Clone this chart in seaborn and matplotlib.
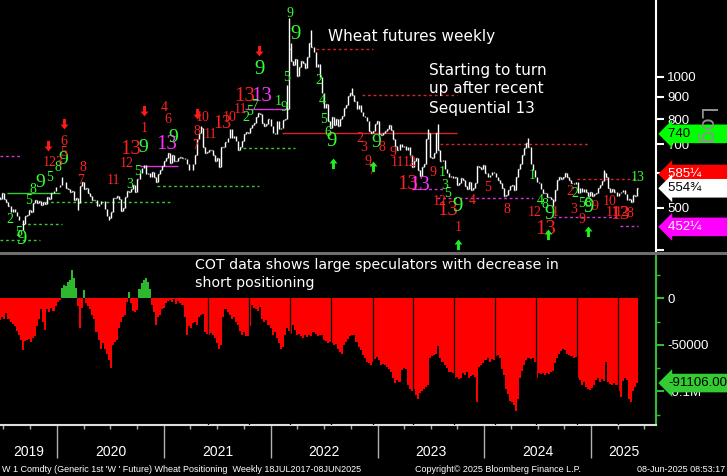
import numpy as np
import pandas as pd
import matplotlib
matplotlib.use("Agg")
import matplotlib.pyplot as plt
import matplotlib.dates as mdates
import matplotlib.transforms as mtransforms
from matplotlib.lines import Line2D
from matplotlib.ticker import FixedLocator, FixedFormatter, NullLocator
import seaborn as sns

# W 1 Comdty weekly closes (cents/bu), one per Friday starting 14 Jun 2019
close_2019 = [530, 525, 540, 525, 515, 505, 490, 498, 490, 478, 470, 468, 458, 478, 482,
              495, 490, 512, 520, 512, 518, 508, 515, 510, 530, 525, 540, 548, 558]
close_2020 = [558, 565, 575, 572, 556, 553, 545, 548, 522, 527, 512, 560, 572, 552, 555,
              540, 532, 522, 520, 506, 510, 518, 518, 498, 480, 474, 490, 528, 528, 532,
              525, 492, 500, 530, 548, 545, 552, 565, 545, 582, 600, 618, 628, 598, 600,
              590, 605, 588, 572, 598, 612, 625]
close_2021 = [640, 650, 668, 635, 660, 640, 640, 650, 655, 652, 648, 630, 612, 610, 632,
              660, 720, 745, 762, 690, 668, 672, 680, 678, 660, 640, 650, 622, 690, 692,
              710, 722, 760, 722, 730, 712, 680, 690, 712, 740, 748, 745, 765, 775, 782,
              810, 825, 820, 785, 770, 778, 800]
close_2022 = [770, 745, 740, 790, 760, 765, 795, 800, 845, 1160, 1090, 1065, 1100, 1005, 1055,
              1090, 1075, 1050, 1110, 1200, 1170, 1140, 1055, 1070, 1000, 920, 850, 865, 790, 765,
              810, 775, 800, 770, 800, 815, 850, 862, 905, 920, 910, 880, 845, 860, 830,
              812, 810, 790, 752, 742, 752, 780]
close_2023 = [792, 740, 735, 742, 752, 760, 775, 755, 720, 695, 680, 700, 690, 695, 680,
              690, 660, 622, 640, 650, 610, 592, 620, 630, 720, 745, 655, 650, 670, 745,
              680, 642, 645, 615, 600, 590, 592, 585, 590, 565, 570, 585, 580, 562, 552,
              575, 550, 555, 570, 625, 620, 615]
close_2024 = [628, 600, 590, 595, 605, 600, 590, 580, 570, 555, 532, 535, 550, 560, 565,
              550, 590, 615, 632, 660, 685, 705, 690, 630, 610, 590, 575, 570, 552, 540,
              542, 530, 530, 525, 518, 550, 580, 590, 582, 588, 600, 590, 580, 570, 568,
              575, 540, 555, 545, 552, 545, 532]
close_2025 = [545, 532, 538, 542, 555, 565, 578, 602, 590, 555, 545, 552, 545, 532, 542,
              545, 550, 538, 522, 525, 515, 535, 532, 554.75]

# weeks whose high / low reaches well outside the close-to-close range
extreme_dates = ["2019-09-06", "2020-01-17", "2020-03-13", "2020-06-26", "2021-05-07",
                 "2022-02-25", "2022-03-04", "2022-03-11", "2022-05-20", "2022-10-07",
                 "2023-06-23", "2023-07-28", "2024-05-31", "2024-08-23", "2025-02-14"]
extreme_vals = [445, 588, 495, 470, 770, 960, 1370, 1200, 1284, 945, 760, 780, 722, 505, 610]

# large speculators net positioning, thousands of contracts (same weeks)
cot_2019 = [-21, -23, -20, -22, -16, -22, -25, -28, -30, -35, -40, -45, -56, -46, -45,
            -44, -47, -43, -41, -30, -22, -12, -25, -34, -12, -15, -10, -14, -8]
cot_2020 = [-4, -2, 11, 14, 13, 18, 20, 30, 22, 11, -8, -32, -10, 9, -5, -8, -12, -18,
            -22, -36, -45, -54, -48, -55, -60, -66, -75, -50, -47, -45, -32, -25, -20,
            -18, -4, 7, -5, -14, -15, -13, 10, 16, 20, 22, 18, 10, -7, -15, -29, -20, -18, -12]
cot_2021 = [-10, -5, -3, -2, -4, -1, -6, -3, -5, -7, -20, -39, -30, -32, -27, -25, -29,
            -20, -18, -17, -36, -38, -39, -37, -40, -43, -48, -55, -50, -20, -11, -15, -18,
            -22, -20, -25, -29, -35, -39, -36, -41, -41, -30, -7, -10, -12, -14, -9, -22,
            -25, -23, -29]
cot_2022 = [-32, -39, -36, -43, -48, -55, -52, -39, -32, -35, -38, -29, -34, -39, -38,
            -41, -43, -40, -42, -39, -41, -36, -38, -41, -39, -40, -45, -46, -48, -47, -48,
            -50, -49, -54, -58, -60, -50, -47, -44, -41, -39, -40, -47, -52, -56, -61, -64,
            -68, -70, -72, -68, -65]
cot_2023 = [-63, -66, -72, -71, -72, -74, -76, -79, -86, -91, -88, -90, -77, -75, -76,
            -93, -97, -100, -98, -104, -108, -102, -100, -98, -95, -93, -64, -62, -61, -60,
            -51, -64, -68, -72, -75, -79, -79, -80, -86, -85, -87, -86, -80, -82, -79, -86,
            -84, -82, -85, -112, -74, -72]
cot_2024 = [-70, -66, -64, -68, -65, -66, -62, -61, -64, -76, -82, -97, -103, -110, -112,
            -115, -121, -108, -86, -78, -72, -66, -64, -65, -64, -68, -86, -80, -81, -80,
            -82, -80, -81, -79, -78, -70, -64, -60, -57, -55, -56, -60, -61, -62, -64, -63,
            -86, -88, -93, -90, -95, -97]
cot_2025 = [-99, -96, -93, -88, -86, -90, -87, -89, -68, -90, -92, -93, -91, -93, -100,
            -106, -89, -86, -88, -108, -112, -100, -95, -91.106]

# breaks in the positioning histogram
cot_gaps = ["2021-05-31", "2021-10-19", "2022-03-08", "2022-07-26", "2022-12-17",
            "2023-05-03", "2023-09-20", "2024-02-07", "2024-06-26", "2024-11-13", "2025-04-03"]

# TD Sequential counts: (date, price, text, colour, size)
td_labels = [
    ("2019-09-03", 422, "9", "g", 15), ("2019-11-04", 571, "9", "g", 14),
    ("2020-01-22", 645, "9", "g", 14), ("2020-09-07", 680, "13", "r", 15),
    ("2020-10-21", 690, "9", "g", 14), ("2021-01-08", 698, "13", "m", 15),
    ("2021-02-01", 724, "9", "g", 14), ("2021-07-19", 780, "13", "r", 13),
    ("2021-10-05", 900, "13", "r", 15), ("2021-11-29", 900, "13", "m", 15),
    ("2021-11-22", 1038, "9", "g", 15), ("2022-03-25", 1249, "9", "g", 15),
    ("2022-03-08", 1396, "9", "g", 10), ("2022-07-26", 712, "9", "g", 15),
    ("2022-12-27", 705, "9", "g", 14), ("2023-04-15", 565, "13", "r", 15),
    ("2023-05-26", 562, "13", "m", 15), ("2023-08-27", 492, "13", "r", 15),
    ("2023-10-03", 505, "9", "g", 15), ("2024-07-27", 447, "13", "r", 15),
    ("2024-08-10", 484, "9", "g", 15), ("2024-12-24", 500, "9", "g", 15),
    ("2025-04-10", 482, "13", "r", 14),
    ("2020-01-25", 709, "6", "r", 10), ("2020-01-22", 669, "5", "r", 10),
    ("2019-12-18", 635, "123", "r", 10), ("2020-03-30", 618, "8", "r", 10),
    ("2020-03-20", 577, "7", "r", 10), ("2020-07-11", 577, "11", "r", 10),
    ("2020-08-27", 631, "12", "r", 10), ("2020-10-25", 763, "1", "r", 10),
    ("2021-01-01", 849, "4", "r", 10), ("2021-01-15", 797, "6", "r", 10),
    ("2021-04-17", 694, "7", "r", 10), ("2021-04-24", 751, "8", "r", 10),
    ("2021-05-14", 809, "10", "r", 10), ("2021-06-08", 736, "11", "r", 10),
    ("2021-08-12", 809, "10", "r", 10), ("2021-09-19", 840, "11", "r", 10),
    ("2022-02-25", 995, "5", "g", 10), ("2022-06-15", 984, "2", "g", 10),
    ("2022-06-25", 885, "4", "g", 10), ("2022-07-02", 797, "5", "g", 10),
    ("2022-07-16", 744, "6", "g", 10), ("2022-11-01", 722, "2", "r", 10),
    ("2022-11-16", 690, "3", "r", 10), ("2022-11-30", 638, "9", "r", 10),
    ("2022-12-10", 611, "7", "r", 10), ("2023-01-17", 690, "8", "r", 10),
    ("2023-02-23", 672, "9", "r", 10), ("2023-03-09", 635, "11", "r", 10),
    ("2023-04-22", 635, "12", "r", 10), ("2023-07-09", 602, "9", "r", 10),
    ("2023-08-09", 602, "1", "g", 10), ("2023-08-19", 562, "3", "g", 10),
    ("2023-08-29", 541, "5", "g", 10), ("2023-08-03", 516, "12", "r", 10),
    ("2023-11-20", 521, "4", "r", 10), ("2023-10-03", 450, "1", "r", 10),
    ("2024-01-13", 558, "5", "r", 10), ("2024-03-18", 497, "8", "r", 10),
    ("2024-06-13", 595, "1", "g", 10), ("2024-06-23", 487, "12", "r", 10),
    ("2024-07-10", 519, "4", "g", 10), ("2024-07-27", 508, "8", "g", 10),
    ("2024-08-30", 487, "1", "r", 10), ("2024-10-20", 546, "2", "r", 10),
    ("2024-11-07", 541, "2", "g", 10), ("2024-10-31", 495, "3", "r", 10),
    ("2024-12-11", 512, "58", "g", 10), ("2025-01-14", 503, "9", "r", 10),
    ("2024-12-01", 469, "9", "r", 10), ("2025-03-06", 516, "10", "r", 10),
    ("2025-03-13", 488, "11", "r", 10), ("2025-04-16", 488, "12", "r", 10),
    ("2025-05-14", 486, "8", "r", 10), ("2025-06-07", 586, "13", "g", 10),
    ("2020-10-01", 605, "5", "g", 10), ("2020-09-07", 565, "3", "g", 10),
    ("2019-09-24", 521, "5", "g", 10), ("2019-10-11", 550, "8", "g", 10),
    ("2019-07-24", 469, "2", "g", 10), ("2019-08-21", 440, "5", "g", 10),
    ("2020-01-04", 618, "8", "g", 10), ("2019-12-08", 586, "5", "g", 10),
    ("2021-10-08", 805, "2", "g", 10), ("2021-10-22", 831, "5", "g", 10),
    ("2021-11-08", 862, "7", "g", 10), ("2022-01-26", 876, "1", "g", 10),
    ("2022-02-15", 849, "9", "g", 10),
]

# TDST support / resistance levels: (start, end, price, colour, style)
tdst_lines = [
    ("2019-06-20", "2019-09-03", 658, "m", ":"), ("2019-06-20", "2019-11-04", 422, "g", ":"),
    ("2019-09-03", "2020-01-18", 459, "g", ":"), ("2019-07-14", "2020-01-11", 541, "g", "-"),
    ("2019-11-21", "2021-02-01", 516, "g", ":"), ("2020-10-11", "2021-02-18", 624, "m", "-"),
    ("2020-12-08", "2021-11-22", 562, "g", ":"), ("2021-09-28", "2022-03-25", 687, "g", ":"),
    ("2021-10-05", "2022-03-01", 844, "m", "-"), ("2022-02-09", "2023-09-28", 744, "r", "-"),
    ("2022-06-05", "2022-12-17", 1160, "r", ":"), ("2022-11-09", "2023-09-28", 909, "r", ":"),
    ("2023-08-03", "2024-12-28", 702, "r", ":"), ("2023-04-29", "2023-08-13", 553, "m", ":"),
    ("2023-07-24", "2024-06-16", 527, "m", ":"), ("2024-08-23", "2025-03-30", 477, "m", ":"),
    ("2024-11-13", "2025-06-07", 583, "r", ":"), ("2025-04-10", "2025-06-10", 454, "m", ":"),
]

sell_arrow_dates = ["2019-12-01", "2020-01-25", "2020-10-25", "2021-04-24", "2021-11-22"]
sell_arrow_prices = [690, 776, 831, 818, 1141]
buy_arrow_dates = ["2022-08-02", "2022-12-17", "2023-10-03", "2024-08-06", "2024-12-21"]
buy_arrow_prices = [638, 628, 415, 438, 445]

price_ticks = [400, 500, 600, 700, 800, 900, 1000]
price_tick_labels = ["", "500", "600", "700", "800", "900", "1000"]
cot_ticks = [0, -50000, -100000]
cot_tick_labels = ["0", "-50000", "-0.1M"]
cot_minor = [25000, -25000, -75000, -125000]

# last-value tags on the right: (value, text, face, text colour, nudge in points, filler)
price_tags = [(585.25, "585\u00bc", "#ff0000", "white", 3, 8),
              (740, "740", "#00ff00", "black", 0, 11),
              (554.75, "554\u00be", "white", "black", 0, 8),
              (452.25, "452\u00bc", "#ff00ff", "white", 0, 8)]
cot_last = -91106.00

COLS = {"g": "#33ff33", "r": "#ff2222", "m": "#ff33ff"}
LINE_COLS = {"g": "#33cc33", "r": "#dd2222", "m": "#dd33dd"}


def plot_wheat():
    sns.set_theme(style="dark", rc={"axes.facecolor": "black", "figure.facecolor": "black",
                                    "savefig.facecolor": "black", "axes.grid": False})
    plt.rcParams["font.family"] = ["DejaVu Sans"]

    W, H = 727, 476
    fig = plt.figure(figsize=(W / 100, H / 100), dpi=100)
    ax1 = fig.add_axes([0, 1 - 251 / H, 656 / W, 251 / H])
    ax2 = fig.add_axes([0, 1 - 425 / H, 656 / W, 170 / H])

    close = close_2019 + close_2020 + close_2021 + close_2022 + close_2023 + close_2024 + close_2025
    cot = cot_2019 + cot_2020 + cot_2021 + cot_2022 + cot_2023 + cot_2024 + cot_2025
    dates = pd.date_range("2019-06-14", periods=len(close), freq="7D")
    xs = mdates.date2num(dates)
    xlim = mdates.date2num(pd.to_datetime(["2019-06-20", "2025-08-10"]))

    # price bars: previous close -> close, stretched by the spike weeks
    c = np.array(close, float)
    o = np.r_[c[0], c[:-1]]
    hi, lo = np.maximum(o, c), np.minimum(o, c)
    for d, v in zip(extreme_dates, extreme_vals):
        k = int(np.argmin(np.abs(xs - mdates.date2num(pd.Timestamp(d)))))
        hi[k] = max(hi[k], v)
        lo[k] = min(lo[k], v)
    ax1.vlines(xs, lo, hi, color="white", lw=1.0, zorder=3)
    ax1.hlines(c, xs, xs + 2.5, color="white", lw=1.0, zorder=3)

    for d0, d1, p, col, ls in tdst_lines:
        x0, x1 = mdates.date2num(pd.to_datetime([d0, d1]))
        ax1.hlines(p, x0, x1, colors=LINE_COLS[col], lw=1,
                   linestyles=(0, (2, 2)) if ls == ":" else "-", zorder=2)

    for d, p, t, col, sz in td_labels:
        ax1.text(mdates.date2num(pd.Timestamp(d)), p, t, color=COLS[col], fontsize=sz,
                 fontfamily="Liberation Serif", ha="center", va="center", zorder=4)

    down = [(-0.22, 1), (0.22, 1), (0.22, 0.15), (0.6, 0.15), (0, -0.6), (-0.6, 0.15), (-0.22, 0.15)]
    up = [(x, -y) for x, y in down]
    ax1.scatter(mdates.date2num(pd.to_datetime(sell_arrow_dates)), sell_arrow_prices,
                marker=down, s=90, color="#ff1a1a", linewidths=0, zorder=5)
    ax1.scatter(mdates.date2num(pd.to_datetime(buy_arrow_dates)), buy_arrow_prices,
                marker=up, s=90, color="#22ee22", linewidths=0, zorder=5)

    ax1.set_yscale("log")
    ax1.set_ylim(398, 1503)
    ax1.set_xlim(*xlim)
    ax1.yaxis.set_major_locator(FixedLocator(price_ticks))
    ax1.yaxis.set_major_formatter(FixedFormatter(price_tick_labels))
    ax1.yaxis.set_minor_locator(NullLocator())
    ax1.yaxis.tick_right()
    ax1.tick_params(axis="y", which="major", right=True, left=False, labelright=True,
                    colors="white", length=6, width=1.5, labelsize=9.5, pad=2,
                    labelfontfamily="Liberation Sans")
    ax1.tick_params(axis="x", which="both", bottom=False, labelbottom=False)
    for s in ["left", "top", "bottom"]:
        ax1.spines[s].set_visible(False)
    ax1.spines["right"].set_color("white")
    ax1.spines["right"].set_linewidth(1.5)

    # positioning histogram
    vals = np.array(cot, float) * 1000
    side = np.where(vals >= 0, "long", "short")
    sns.barplot(x=xs, y=vals, hue=side, palette={"long": "#2db82d", "short": "#ff0000"},
                native_scale=True, width=1.0, dodge=False, saturation=1, errorbar=None,
                legend=False, linewidth=0, antialiased=False, ax=ax2)
    ax2.vlines(mdates.date2num(pd.to_datetime(cot_gaps)), -140000, 0, color="black", lw=0.9, zorder=5)
    ax2.set_xlim(*xlim)
    ax2.set_ylim(-136200, 46500)
    ax2.set_xlabel("")
    ax2.set_ylabel("")
    ax2.yaxis.set_major_locator(FixedLocator(cot_ticks))
    ax2.yaxis.set_major_formatter(FixedFormatter(cot_tick_labels))
    ax2.yaxis.set_minor_locator(FixedLocator(cot_minor))
    ax2.yaxis.tick_right()
    ax2.tick_params(axis="y", which="major", right=True, left=False, labelright=True,
                    colors="#33bb33", labelcolor="white", length=6, width=1.5,
                    labelsize=9.5, pad=2, labelfontfamily="Liberation Sans")
    ax2.tick_params(axis="y", which="minor", right=True, left=False, colors="#33bb33",
                    length=3, width=1)
    ax2.xaxis.set_major_locator(mdates.YearLocator())
    ax2.xaxis.set_minor_locator(mdates.MonthLocator(bymonth=[4, 7, 10]))
    ax2.tick_params(axis="x", which="major", bottom=True, length=24, width=1,
                    color="#b0b0b0", labelbottom=False)
    ax2.tick_params(axis="x", which="minor", bottom=True, length=3, width=1, color="#b0b0b0")
    for s in ["left", "top"]:
        ax2.spines[s].set_visible(False)
    ax2.spines["right"].set_color("#33bb33")
    ax2.spines["right"].set_linewidth(1.5)
    ax2.spines["bottom"].set_color("#dddddd")
    ax2.spines["bottom"].set_linewidth(1.5)

    # year labels centred on the visible part of each year
    trans = mtransforms.blended_transform_factory(ax2.transData, ax2.transAxes)
    for yr in range(2019, 2026):
        a = max(xlim[0], mdates.date2num(pd.Timestamp(f"{yr}-01-01")))
        b = min(xlim[1], mdates.date2num(pd.Timestamp(f"{yr + 1}-01-01")))
        ax2.text((a + b) / 2, -0.16, str(yr), transform=trans, ha="center", va="center",
                 color="white", fontsize=10, fontfamily="Liberation Sans")

    # right-hand value tags
    for v, t, fc, tc, dy, fill in price_tags:
        ax1.annotate(t + " " * fill, xy=(1.0, v), xycoords=("axes fraction", "data"),
                     xytext=(9, dy), textcoords="offset points", ha="left", va="center",
                     fontsize=9.5, fontfamily="Liberation Sans", color=tc, zorder=10,
                     annotation_clip=False,
                     bbox=dict(boxstyle="larrow,pad=0.25", fc=fc, ec="none"))
    ax2.annotate(f"{cot_last:.2f}", xy=(1.0, cot_last), xycoords=("axes fraction", "data"),
                 xytext=(9, 0), textcoords="offset points", ha="left", va="center",
                 fontsize=9.5, fontfamily="Liberation Sans", color="black", zorder=10,
                 annotation_clip=False,
                 bbox=dict(boxstyle="larrow,pad=0.25", fc="#33cc33", ec="none"))

    fig.text(705 / W, 1 - 127 / H, "Log", rotation=270, color="#909090", fontsize=15,
             ha="center", va="center")

    # panel separator
    fig.add_artist(Line2D([0, 1], [1 - 253 / H] * 2, transform=fig.transFigure,
                          color="#6e6e6e", lw=2.2))

    # commentary
    fig.text(328 / W, 1 - 36 / H, "Wheat futures weekly", color="white", fontsize=11, va="center")
    for k, line in enumerate(["Starting to turn", "up after recent", "Sequential 13"]):
        fig.text(429 / W, 1 - (70 + 19 * k) / H, line, color="white", fontsize=11, va="center")
    fig.text(195 / W, 1 - 265 / H, "COT data shows large speculators with decrease in",
             color="white", fontsize=10.2, va="center")
    fig.text(195 / W, 1 - 283 / H, "short positioning", color="white", fontsize=10.2, va="center")

    # footer
    foot = dict(color="white", fontsize=6.5, fontfamily="Liberation Sans", va="center")
    fig.text(2 / W, 1 - 469 / H, "W 1 Comdty (Generic 1st 'W ' Future) Wheat Positioning  "
             "Weekly 18JUL2017-08JUN2025", **foot)
    fig.text(415 / W, 1 - 469 / H, "Copyright\u00a9 2025 Bloomberg Finance L.P.", **foot)
    fig.text(725 / W, 1 - 469 / H, "08-Jun-2025 08:53:17", ha="right", **foot)

    fig.savefig("out.png", dpi=100, facecolor="black")


if __name__ == "__main__":
    plot_wheat()
